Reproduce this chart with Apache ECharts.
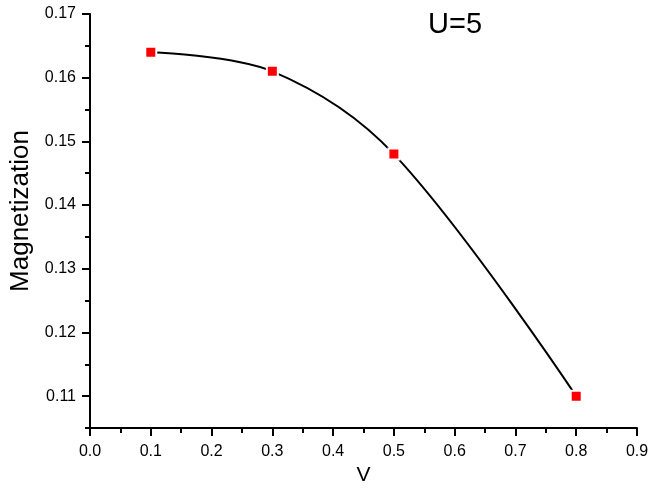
<!DOCTYPE html>
<html>
<head>
<meta charset="utf-8">
<script src="https://cdn.jsdelivr.net/npm/echarts@6/dist/echarts.min.js"></script>
<style>
  html, body { margin: 0; padding: 0; background: #fff; }
  #chart { width: 649px; height: 491px; }
</style>
</head>
<body>
<div id="chart"></div>
<script>
// data
var vValues = [0.1, 0.3, 0.5, 0.8];
var magnetization = [0.164, 0.161, 0.148, 0.110];
var yMajorTicks = [0.11, 0.12, 0.13, 0.14, 0.15, 0.16, 0.17];
var yMinorTicks = [0.105, 0.115, 0.125, 0.135, 0.145, 0.155, 0.165];

var font = 'Liberation Sans, Arial, sans-serif';
var chart = echarts.init(document.getElementById('chart'));

var points = vValues.map(function (v, i) { return [v, magnetization[i]]; });

chart.setOption({
  animation: false,
  title: {
    text: 'U=5',
    left: 423,
    top: 5,
    textStyle: { fontFamily: font, fontSize: 29, fontWeight: 'normal', color: '#000' }
  },
  grid: { left: 90, right: 12, top: 14, bottom: 63, containLabel: false, outerBoundsMode: 'none' },
  xAxis: {
    type: 'value',
    min: 0,
    max: 0.9,
    interval: 0.1,
    name: 'V',
    nameLocation: 'middle',
    nameGap: 30,
    nameTextStyle: { fontFamily: font, fontSize: 21, color: '#000' },
    axisLine: { lineStyle: { color: '#000', width: 2 } },
    axisTick: { show: true, length: 8, inside: false, lineStyle: { color: '#000', width: 2 } },
    minorTick: { show: true, splitNumber: 2, length: 5, lineStyle: { color: '#000', width: 2 } },
    axisLabel: {
      fontFamily: font, fontSize: 16, color: '#000', margin: 16,
      formatter: function (v) { return v.toFixed(1); }
    },
    splitLine: { show: false }
  },
  yAxis: [{
    type: 'value',
    min: 0.105,
    max: 0.17,
    name: 'Magnetization',
    nameLocation: 'middle',
    nameGap: 56,
    nameTextStyle: { fontFamily: font, fontSize: 26, color: '#000', padding: [0, 0, 0, 20] },
    axisLine: { show: true, lineStyle: { color: '#000', width: 2 } },
    axisTick: { show: true, length: 8, customValues: yMajorTicks, lineStyle: { color: '#000', width: 2 } },
    axisLabel: {
      fontFamily: font, fontSize: 16, color: '#000', margin: 14,
      customValues: yMajorTicks,
      formatter: function (v) { return v.toFixed(2); }
    },
    splitLine: { show: false }
  }, {
    type: 'value',
    position: 'left',
    min: 0.105,
    max: 0.17,
    axisLine: { show: false },
    axisTick: { show: true, length: 5, customValues: yMinorTicks, lineStyle: { color: '#000', width: 2 } },
    axisLabel: { show: false },
    splitLine: { show: false }
  }],
  series: [{
    type: 'line',
    data: points,
    smooth: 0.35,
    lineStyle: { color: '#000', width: 2 },
    symbol: 'rect',
    symbolSize: 11,
    itemStyle: { color: '#ff0000', borderColor: '#fff', borderWidth: 2 },
    z: 3
  }]
});
</script>
</body>
</html>
